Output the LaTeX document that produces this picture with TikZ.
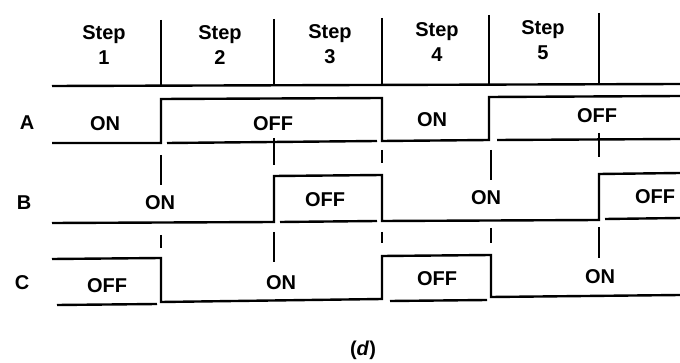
\documentclass[tikz,border=0pt]{standalone}
\usepackage{fontspec}
\setmainfont{Liberation Sans}
\begin{document}
\begin{tikzpicture}[x=1pt,y=-1pt,
  sig/.style={line width=2.4pt, line join=miter},
  tickmark/.style={line width=2.2pt},
  lbl/.style={font=\fontsize{20}{25}\selectfont\bfseries, inner sep=0pt, align=center}]
\useasboundingbox[fill=white] (0,0) rectangle (680,363);
% header
\draw[sig] (52,86) -- (680,84);
\draw[sig] (161,20) -- (161,86);
\draw[sig] (274,19) -- (274,86);
\draw[sig] (382,18) -- (382,85);
\draw[sig] (489,15) -- (489,85);
\draw[sig] (599,13) -- (599,84);
\node[lbl] (s1) at (104,45) {Step\\1};
\node[lbl] (s2) at (220,45) {Step\\2};
\node[lbl] (s3) at (330,44) {Step\\3};
\node[lbl] (s4) at (437,42) {Step\\4};
\node[lbl] (s5) at (543,40) {Step\\5};
% row labels
\node[lbl] (la) at (27,123) {A};
\node[lbl] (lb) at (24,203) {B};
\node[lbl] (lc) at (22,283) {C};
% row A
\draw[sig] (52,143) -- (161,143) -- (161,99) -- (382,98) -- (382,141) -- (489,140) -- (489,97) -- (680,96);
\draw[sig] (167,143) -- (377,141);
\draw[sig] (497,140) -- (680,139);
\node[lbl] (a1) at (105,124) {ON};
\node[lbl] (a2) at (273,124) {OFF};
\node[lbl] (a3) at (432,120) {ON};
\node[lbl] (a4) at (597,116) {OFF};
% ticks A-B
\draw[tickmark] (161,155) -- (161,185);
\draw[tickmark] (274,138) -- (274,165);
\draw[tickmark] (382,150) -- (382,163);
\draw[tickmark] (491,150) -- (491,180);
\draw[tickmark] (599,133) -- (599,157);
% row B
\draw[sig] (52,223) -- (274,222) -- (274,176) -- (382,175) -- (382,221) -- (599,220) -- (599,174) -- (680,173);
\draw[sig] (280,222) -- (377,221);
\draw[sig] (605,219) -- (680,218);
\node[lbl] (b1) at (160,203) {ON};
\node[lbl] (b2) at (325,200) {OFF};
\node[lbl] (b3) at (486,198) {ON};
\node[lbl] (b4) at (655,197) {OFF};
% ticks B-C
\draw[tickmark] (161,235) -- (161,248);
\draw[tickmark] (274,232) -- (274,262);
\draw[tickmark] (382,232) -- (382,243);
\draw[tickmark] (491,228) -- (491,243);
\draw[tickmark] (599,227) -- (599,258);
% row C
\draw[sig] (52,259) -- (161,258) -- (161,302) -- (382,299) -- (382,256) -- (491,255) -- (491,297) -- (680,295);
\draw[sig] (57,305) -- (157,304);
\draw[sig] (390,301) -- (487,300);
\node[lbl] (c1) at (107,286) {OFF};
\node[lbl] (c2) at (281,283) {ON};
\node[lbl] (c3) at (437,279) {OFF};
\node[lbl] (c4) at (600,277) {ON};
% caption
\node[lbl] (cap) at (363,350) {(\textit{d})};
\end{tikzpicture}
\end{document}
